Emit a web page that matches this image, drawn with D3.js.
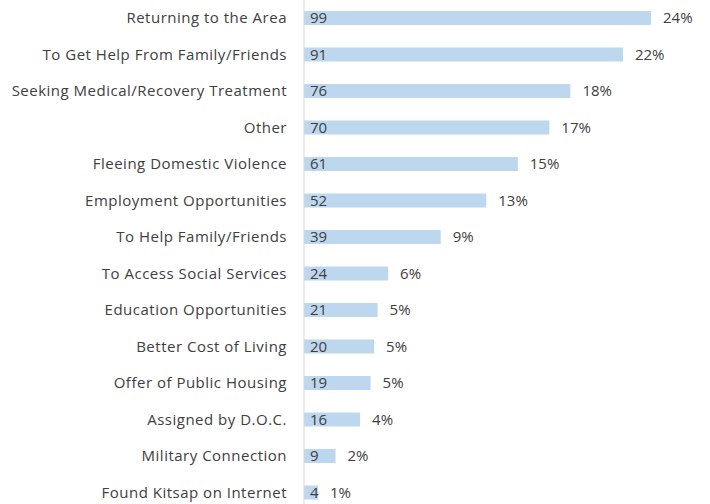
<!DOCTYPE html>
<html lang="en">
<head>
  <meta charset="UTF-8">
  <title>Reasons for Moving</title>
  <style>
    body {
      margin: 0;
      padding: 0;
      background: #fff;
    }
    svg text {
      font-family: 'Open Sans', sans-serif;
      font-size: 15px;
      fill: #404040;
    }
    .label {
      letter-spacing: 0.5px;
    }
  </style>
</head>
<body>
  <svg></svg>
  <script src="https://d3js.org/d3.v7.min.js"></script>
  <script>
    const width = 710, height = 504;

    const reasons = [
      "Returning to the Area",
      "To Get Help From Family/Friends",
      "Seeking Medical/Recovery Treatment",
      "Other",
      "Fleeing Domestic Violence",
      "Employment Opportunities",
      "To Help Family/Friends",
      "To Access Social Services",
      "Education Opportunities",
      "Better Cost of Living",
      "Offer of Public Housing",
      "Assigned by D.O.C.",
      "Military Connection",
      "Found Kitsap on Internet"
    ];
    const counts = [99, 91, 76, 70, 61, 52, 39, 24, 21, 20, 19, 16, 9, 4];
    const percents = ["24%", "22%", "18%", "17%", "15%", "13%", "9%", "6%", "5%", "5%", "5%", "4%", "2%", "1%"];

    const data = reasons.map((r, i) => ({ reason: r, count: counts[i], pct: percents[i] }));

    const svg = d3.select("svg")
      .attr("width", width)
      .attr("height", height);

    const x = d3.scaleLinear()
      .domain([0, 99])
      .range([304, 651]);

    const y = d3.scaleBand()
      .domain(reasons)
      .range([-0.25, 510.75])
      .paddingInner(0.616)
      .paddingOuter(0.308);

    // bars
    svg.append("g")
      .selectAll("rect")
      .data(data)
      .join("rect")
      .attr("x", x(0))
      .attr("y", d => y(d.reason))
      .attr("width", d => x(d.count) - x(0))
      .attr("height", y.bandwidth())
      .attr("fill", "#bdd7ee");

    // vertical axis line
    svg.append("line")
      .attr("x1", x(0)).attr("x2", x(0))
      .attr("y1", 0).attr("y2", height)
      .attr("stroke", "#d9d9d9")
      .attr("stroke-width", 1);

    // category labels
    svg.append("g")
      .selectAll("text")
      .data(data)
      .join("text")
      .attr("class", "label")
      .attr("x", 287)
      .attr("y", d => y(d.reason) + y.bandwidth() / 2)
      .attr("dy", "0.35em")
      .attr("text-anchor", "end")
      .text(d => d.reason);

    // counts inside bars
    svg.append("g")
      .selectAll("text")
      .data(data)
      .join("text")
      .attr("x", x(0) + 6)
      .attr("y", d => y(d.reason) + y.bandwidth() / 2)
      .attr("dy", "0.35em")
      .text(d => d.count);

    // percentages after bars
    svg.append("g")
      .selectAll("text")
      .data(data)
      .join("text")
      .attr("x", d => x(d.count) + 12)
      .attr("y", d => y(d.reason) + y.bandwidth() / 2)
      .attr("dy", "0.35em")
      .text(d => d.pct);
  </script>
</body>
</html>
